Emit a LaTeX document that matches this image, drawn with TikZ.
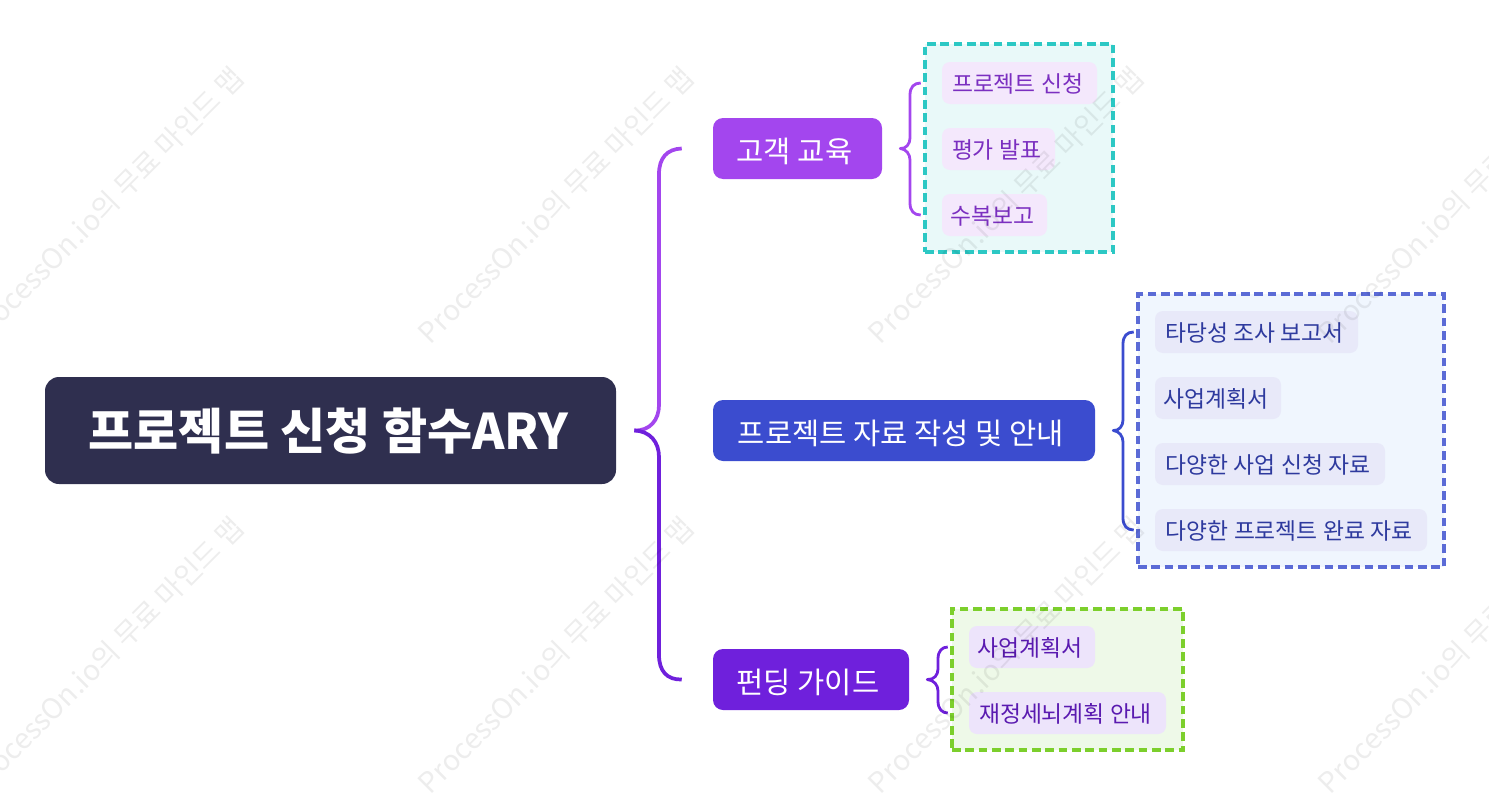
\documentclass[tikz,border=0pt]{standalone}
\usepackage{fontspec}
\setmainfont{Noto Sans CJK KR}
\usepackage{xcolor}
\definecolor{rootfill}{HTML}{2F2F4F}
\definecolor{violetA}{HTML}{A346EE}
\definecolor{blueB}{HTML}{3B4CCF}
\definecolor{violetC}{HTML}{6F20DC}
\definecolor{edgeA}{HTML}{2CC8C4}
\definecolor{edgeB}{HTML}{5B6BD6}
\definecolor{edgeC}{HTML}{7CCF2C}
\definecolor{paneA}{HTML}{E9F9F9}
\definecolor{paneB}{HTML}{F0F6FE}
\definecolor{paneC}{HTML}{EEF9E8}
\tikzset{
  rootbox/.style={fill=rootfill,text=white,rounded corners=10.5pt,text height=30pt,text depth=1pt,execute at begin node=\kern-3pt,font=\fontsize{36.8}{40}\selectfont\bfseries},
  topicbox/.style={text=white,rounded corners=7.5pt,minimum height=45.75pt,text height=22pt,text depth=1pt,execute at begin node=\kern-4.5pt,font=\fontsize{22.2}{24}\selectfont},
  leafbox/.style={rounded corners=6pt,minimum height=31.5pt,text height=15.4pt,text depth=1pt,execute at begin node=\kern-3pt,font=\fontsize{17.1}{19}\selectfont},
  groupbox/.style={line width=2.3pt,dash pattern=on 6.5pt off 3.5pt},
  wire/.style={line width=2.8pt},
  subwire/.style={line width=2.1pt,line join=round},
  stamp/.style={text=black,opacity=.07,rotate=45,font=\fontsize{21.3}{23}\selectfont},
  leafA/.style={leafbox,fill={rgb,255:red,244;green,232;blue,252},text={rgb,255:red,123;green,47;blue,192}},
  leafB/.style={leafbox,fill={rgb,255:red,232;green,233;blue,249},text={rgb,255:red,46;green,58;blue,158}},
  leafC/.style={leafbox,fill={rgb,255:red,237;green,228;blue,251},text={rgb,255:red,90;green,26;blue,176}}
}
\begin{document}
\begin{tikzpicture}[x=0.75pt,y=-0.75pt]
\clip (0,0) rectangle (1489,810);
% dashed groups
\node [groupbox,draw=edgeA,fill=paneA,minimum width=141pt,minimum height=156pt] (groupA) at (1019,148) {};
\node [groupbox,draw=edgeB,fill=paneB,minimum width=229.5pt,minimum height=204.75pt] (groupB) at (1291,430.5) {};
\node [groupbox,draw=edgeC,fill=paneC,minimum width=173.25pt,minimum height=105.75pt] (groupC) at (1067.5,679.5) {};
% main boxes
\node [rootbox,minimum width=428.25pt,minimum height=80.25pt] (root) at (330.5,430.5) {프로젝트 신청 함수ARY};
\node [topicbox,fill=violetA,minimum width=126.75pt] (topicA) at (797.5,148.5) {고객 교육};
\node [topicbox,fill=blueB,minimum width=286.5pt] (topicB) at (904,430.5) {프로젝트 자료 작성 및 안내};
\node [topicbox,fill=violetC,minimum width=147pt] (topicC) at (811,679.5) {펀딩 가이드};
% leaves
\node [leafA,minimum width=116.25pt] (leafA1) at (1019.5,83) {프로젝트 신청};
\node [leafA,minimum width=84.75pt] (leafA2) at (998.5,149) {평가 발표};
\node [leafA,minimum width=78.75pt] (leafA3) at (994.5,215) {수복보고};
\node [leafB,minimum width=152.25pt] (leafB1) at (1256.5,332) {타당성 조사 보고서};
\node [leafB,minimum width=94.5pt] (leafB2) at (1218,398) {사업계획서};
\node [leafB,minimum width=172.5pt] (leafB3) at (1270,464) {다양한 사업 신청 자료};
\node [leafB,minimum width=204pt] (leafB4) at (1291,530) {다양한 프로젝트 완료 자료};
\node [leafC,minimum width=94.5pt] (leafC1) at (1032,647) {사업계획서};
\node [leafC,minimum width=147.75pt] (leafC2) at (1067.5,713) {재정세뇌계획 안내};
% root brace
\draw [wire,violetA] ([shift={(18,0)}]root.east) .. controls (650,431) and (659,420) .. (659,405) -- (659,174) .. controls (659,158) and (667,149) .. ([shift={(-31,0)}]topicA.west);
\draw [wire,violetC] ([shift={(18,0)}]root.east) .. controls (650,431) and (659,442) .. (659,457) -- (659,655) .. controls (659,671) and (667,680) .. ([shift={(-31,0)}]topicC.west);
% small braces
\draw [subwire,violetA] ([shift={(-21,0)}]leafA1.west) .. controls (914,83) and (910,87) .. (910,95) -- (910,138) .. controls (910,144) and (906,149) .. ([shift={(18,0)}]topicA.east) .. controls (906,149) and (910,154) .. (910,160) -- (910,203) .. controls (910,211) and (914,215) .. ([shift={(-21,0)}]leafA3.west);
\draw [subwire,blueB] ([shift={(-21,0)}]leafB1.west) .. controls (1127,332) and (1123,336) .. (1123,344) -- (1123,420) .. controls (1123,426) and (1119,431) .. ([shift={(18,0)}]topicB.east) .. controls (1119,431) and (1123,436) .. (1123,442) -- (1123,518) .. controls (1123,526) and (1127,530) .. ([shift={(-21,0)}]leafB4.west);
\draw [subwire,violetC] ([shift={(-21,0)}]leafC1.west) .. controls (942,647) and (938,651) .. (938,659) -- (938,669) .. controls (938,675) and (934,680) .. ([shift={(18,0)}]topicC.east) .. controls (934,680) and (938,685) .. (938,691) -- (938,701) .. controls (938,709) and (942,713) .. ([shift={(-21,0)}]leafC2.west);
% watermark
\node [stamp] (stampA1) at (106,205) {ProcessOn.io의 무료 마인드 맵};
\node [stamp] (stampA2) at (556,205) {ProcessOn.io의 무료 마인드 맵};
\node [stamp] (stampA3) at (1006,205) {ProcessOn.io의 무료 마인드 맵};
\node [stamp] (stampA4) at (1456,205) {ProcessOn.io의 무료 마인드 맵};
\node [stamp] (stampB1) at (106,655) {ProcessOn.io의 무료 마인드 맵};
\node [stamp] (stampB2) at (556,655) {ProcessOn.io의 무료 마인드 맵};
\node [stamp] (stampB3) at (1006,655) {ProcessOn.io의 무료 마인드 맵};
\node [stamp] (stampB4) at (1456,655) {ProcessOn.io의 무료 마인드 맵};
\end{tikzpicture}
\end{document}
